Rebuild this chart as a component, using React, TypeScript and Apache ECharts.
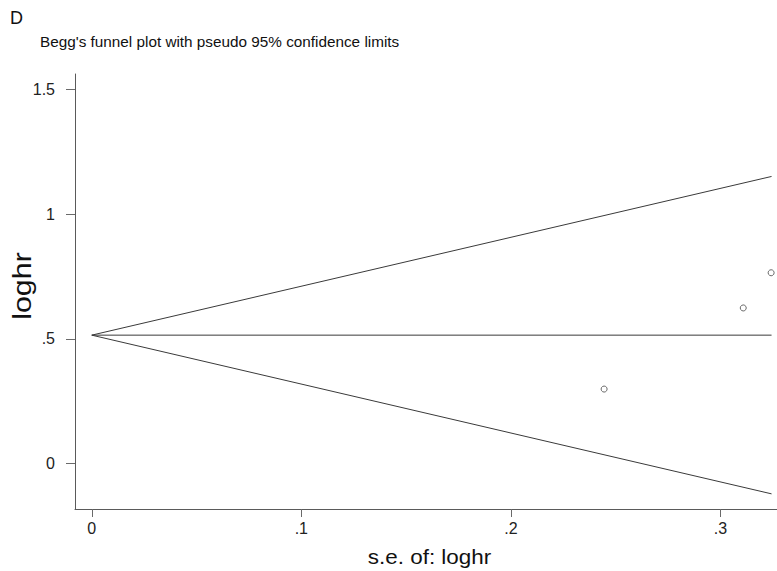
import React, { useEffect, useRef } from "react";
import * as echarts from "echarts";

const panelLetter = "D";
const titleText = "Begg's funnel plot with pseudo 95% confidence limits";
const xTitle = "s.e. of: loghr";
const yTitle = "loghr";

const studySE = [0.2445, 0.3109, 0.3242];
const studyLogHR = [0.299, 0.624, 0.765];
const pooledLogHR = 0.515;
const maxSE = 0.3244;
const zCrit = 1.96;

const xTickValues = [0, 0.1, 0.2, 0.3];
const xTickLabels = ["0", ".1", ".2", ".3"];
const yTickValues = [0, 0.5, 1, 1.5];
const yTickLabels = ["0", ".5", "1", "1.5"];

const FONT = "'Liberation Sans', Arial, Helvetica, sans-serif";

export default function App() {
  const ref = useRef<HTMLDivElement>(null);
  useEffect(() => {
    if (!ref.current) return;
    const chart = echarts.init(ref.current, null, { renderer: "svg" });
    const upper = [
      [0, pooledLogHR],
      [maxSE, pooledLogHR + zCrit * maxSE],
    ];
    const lower = [
      [0, pooledLogHR],
      [maxSE, pooledLogHR - zCrit * maxSE],
    ];
    const center = [
      [0, pooledLogHR],
      [maxSE, pooledLogHR],
    ];
    const lineStyle = { color: "#3a3a3a", width: 1 };
    const fmt = (vals: number[], labs: string[]) => (v: number) => {
      const i = vals.findIndex((t) => Math.abs(t - v) < 1e-9);
      return i >= 0 ? labs[i] : "";
    };
    chart.setOption({
      animation: false,
      backgroundColor: "#ffffff",
      grid: { left: 75, top: 74, width: 702, height: 435, containLabel: false },
      xAxis: {
        type: "value",
        min: -0.008,
        max: 0.327,
        axisLine: { show: true, onZero: false, lineStyle: { color: "#5a5a5a", width: 1 } },
        axisTick: { show: true, length: 8, customValues: xTickValues, lineStyle: { color: "#6a6a6a" } },
        axisLabel: {
          customValues: xTickValues,
          formatter: fmt(xTickValues, xTickLabels),
          color: "#222",
          fontSize: 16,
          fontFamily: FONT,
          margin: 11,
        },
        splitLine: { show: false },
      },
      yAxis: {
        type: "value",
        min: -0.1815,
        max: 1.5613,
        axisLine: { show: true, onZero: false, lineStyle: { color: "#5a5a5a", width: 1 } },
        axisTick: { show: true, length: 9, customValues: yTickValues, lineStyle: { color: "#6a6a6a" } },
        axisLabel: {
          customValues: yTickValues,
          formatter: fmt(yTickValues, yTickLabels),
          color: "#222",
          fontSize: 16,
          fontFamily: FONT,
          margin: 20,
        },
        splitLine: { show: false },
      },
      graphic: [
        {
          type: "text",
          x: 10,
          y: 17.5,
          style: {
            text: panelLetter,
            fontSize: 18,
            fontFamily: FONT,
            fill: "#111",
            align: "left",
            verticalAlign: "middle",
          },
        },
        {
          type: "text",
          x: 40,
          y: 41,
          style: {
            text: titleText,
            fontSize: 15.3,
            fontFamily: FONT,
            fill: "#111",
            align: "left",
            verticalAlign: "middle",
          },
        },
        {
          type: "text",
          x: 429.5,
          y: 557,
          scaleX: 1.15,
          style: {
            text: xTitle,
            fontSize: 19.5,
            fontFamily: FONT,
            fill: "#111",
            align: "center",
            verticalAlign: "middle",
          },
        },
        {
          type: "text",
          x: 22,
          y: 286,
          rotation: Math.PI / 2,
          scaleX: 1.17,
          style: {
            text: yTitle,
            fontSize: 26,
            fontFamily: FONT,
            fill: "#111",
            align: "center",
            verticalAlign: "middle",
          },
        },
      ],
      series: [
        { type: "line", data: upper, symbol: "none", lineStyle, silent: true },
        { type: "line", data: lower, symbol: "none", lineStyle, silent: true },
        { type: "line", data: center, symbol: "none", lineStyle, silent: true },
        {
          type: "scatter",
          data: studySE.map((s, i) => [s, studyLogHR[i]]),
          symbol: "circle",
          symbolSize: 6,
          itemStyle: { color: "#ffffff", borderColor: "#444", borderWidth: 1 },
        },
      ],
    });
    return () => chart.dispose();
  }, []);
  return (
    <div
      ref={ref}
      style={{ position: "absolute", left: 0, top: 0, width: 777, height: 571, background: "#fff" }}
    />
  );
}
